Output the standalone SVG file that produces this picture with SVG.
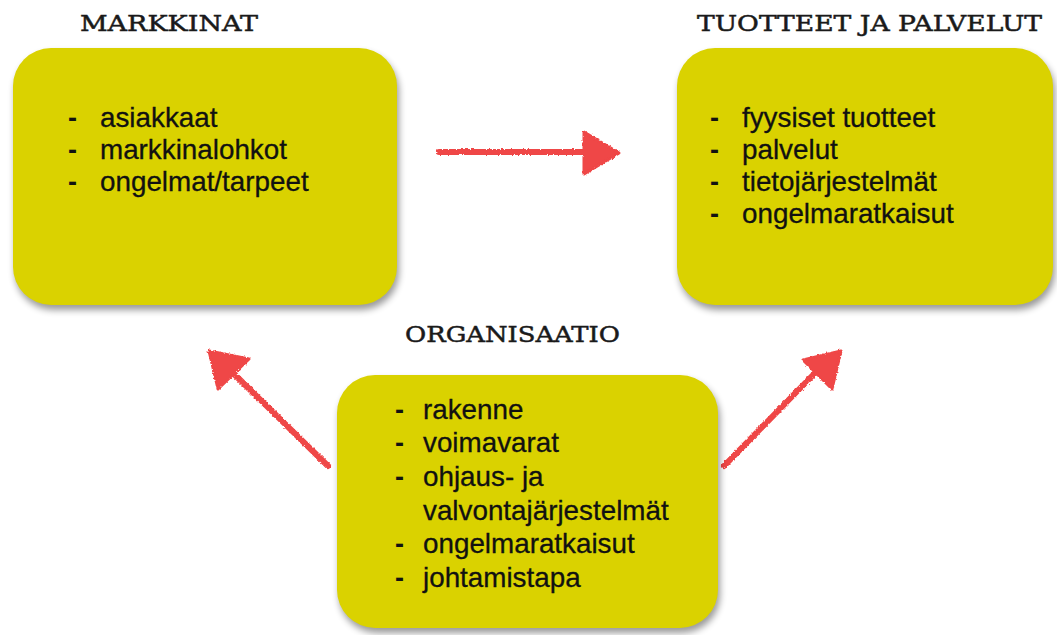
<svg xmlns="http://www.w3.org/2000/svg" width="1057" height="635" viewBox="0 0 1057 635">
  <style>
    .box { fill: #dad200; filter: url(#card); }
    .title { font-family: "DejaVu Serif", "Liberation Serif", serif; font-size: 23px; fill: #1a1a1a; stroke: #1a1a1a; stroke-width: 0.5; }
    .item { font-family: "Liberation Sans", Arial, sans-serif; font-size: 27.8px; fill: #111; stroke: #111; stroke-width: 0.3; }
    .dash { font-family: "Liberation Sans", Arial, sans-serif; font-size: 27px; font-weight: bold; fill: #111; }
    .arrow { stroke: #ef4646; stroke-width: 6; stroke-linecap: round; fill: none; }
    .head { fill: #ef4646; stroke: #ef4646; stroke-width: 3; stroke-linejoin: round; }
  </style>
  <defs>
    <!-- soft drop shadow under the yellow cards -->
    <filter id="card" x="-10%" y="-10%" width="125%" height="130%" color-interpolation-filters="sRGB">
      <feGaussianBlur in="SourceAlpha" stdDeviation="3.5" result="blur"/>
      <feOffset in="blur" dx="2" dy="5" result="off"/>
      <feComponentTransfer in="off" result="shadow">
        <feFuncA type="linear" slope="0.4"/>
      </feComponentTransfer>
      <feMerge>
        <feMergeNode in="shadow"/>
        <feMergeNode in="SourceGraphic"/>
      </feMerge>
    </filter>
    <!-- crayon-like ragged edge for the red arrows -->
    <filter id="rough" filterUnits="userSpaceOnUse" x="150" y="100" width="750" height="400">
      <feTurbulence type="fractalNoise" baseFrequency="0.5" numOctaves="2" seed="7" result="t"/>
      <feDisplacementMap in="SourceGraphic" in2="t" scale="3" xChannelSelector="R" yChannelSelector="G"/>
    </filter>
  </defs>

  <!-- connectors -->
  <g id="connectors" filter="url(#rough)">
    <g id="markkinat-to-tuotteet">
      <line class="arrow" x1="439" y1="152" x2="590" y2="152"/>
      <polygon class="head" points="584,132 619,153 584,174"/>
    </g>
    <g id="organisaatio-to-markkinat">
      <line class="arrow" x1="328" y1="466" x2="234" y2="374"/>
      <polygon class="head" points="209,351 249,359 218,389"/>
    </g>
    <g id="organisaatio-to-tuotteet">
      <line class="arrow" x1="724" y1="466" x2="815" y2="373"/>
      <polygon class="head" points="841,351 803,360 832,389"/>
    </g>
  </g>

  <!-- Markkinat -->
  <g id="markkinat">
    <text class="title" x="80" y="31" textLength="178" lengthAdjust="spacingAndGlyphs">MARKKINAT</text>
    <rect class="box" x="13" y="48" width="384" height="257" rx="38" ry="38"/>
    <text class="dash" x="68" y="127">-</text><text class="item" x="100" y="127">asiakkaat</text>
    <text class="dash" x="68" y="159">-</text><text class="item" x="100" y="159">markkinalohkot</text>
    <text class="dash" x="68" y="191">-</text><text class="item" x="100" y="191">ongelmat/tarpeet</text>
  </g>

  <!-- Tuotteet ja palvelut -->
  <g id="tuotteet">
    <text class="title" x="697" y="31" textLength="345" lengthAdjust="spacingAndGlyphs">TUOTTEET JA PALVELUT</text>
    <rect class="box" x="677" y="48" width="376" height="257" rx="38" ry="38"/>
    <text class="dash" x="710" y="127">-</text><text class="item" x="742" y="127">fyysiset tuotteet</text>
    <text class="dash" x="710" y="159">-</text><text class="item" x="742" y="159">palvelut</text>
    <text class="dash" x="710" y="191">-</text><text class="item" x="742" y="191">tietojärjestelmät</text>
    <text class="dash" x="710" y="223">-</text><text class="item" x="742" y="223">ongelmaratkaisut</text>
  </g>

  <!-- Organisaatio -->
  <g id="organisaatio">
    <text class="title" x="405" y="342" textLength="215" lengthAdjust="spacingAndGlyphs">ORGANISAATIO</text>
    <rect class="box" x="337" y="375" width="381" height="253" rx="38" ry="38"/>
    <text class="dash" x="395" y="419">-</text><text class="item" x="423" y="419">rakenne</text>
    <text class="dash" x="395" y="452">-</text><text class="item" x="423" y="452">voimavarat</text>
    <text class="dash" x="395" y="486">-</text><text class="item" x="423" y="486">ohjaus- ja</text>
    <text class="item" x="423" y="520">valvontajärjestelmät</text>
    <text class="dash" x="395" y="553">-</text><text class="item" x="423" y="553">ongelmaratkaisut</text>
    <text class="dash" x="395" y="587">-</text><text class="item" x="423" y="587">johtamistapa</text>
  </g>
</svg>
